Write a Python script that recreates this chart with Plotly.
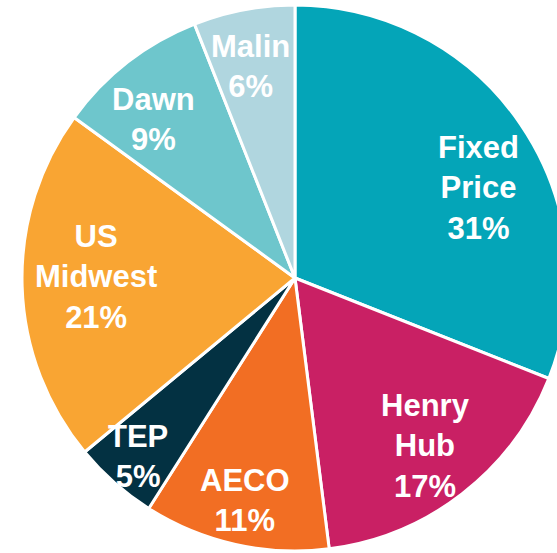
import math
import plotly.graph_objects as go

# Share of exposure by pricing hub (percent)
hubs = ["Fixed Price", "Henry Hub", "AECO", "TEP", "US Midwest", "Dawn", "Malin"]
shares = [31, 17, 11, 5, 21, 9, 6]
colors = ["#04A5B8", "#C92064", "#F26E23", "#033142", "#F9A533", "#6EC6CC", "#B0D6DF"]

# Label placement: radial fraction of the radius and angular nudge (degrees)
label_radius = [0.75, 0.78, 0.835, 0.87, 0.73, 0.78, 0.79]
label_nudge = [8, 0, 0, 0, 2, -4, -1]

W, H = 570, 553
cx, cy, r = 295, 278, 273  # pie centre and radius in pixels (from top-left)

fig = go.Figure(
    go.Pie(
        labels=hubs,
        values=shares,
        sort=False,
        direction="clockwise",
        rotation=0,
        marker=dict(colors=colors, line=dict(color="white", width=3)),
        textinfo="none",
        hoverinfo="label+percent",
        showlegend=False,
        domain=dict(
            x=[(cx - r) / W, (cx + r) / W],
            y=[1 - (cy + r) / H, 1 - (cy - r) / H],
        ),
    )
)

total = sum(shares)
cum = 0
annotations = []
for name, v, f, nudge in zip(hubs, shares, label_radius, label_nudge):
    mid = (cum + v / 2) / total * 360 + nudge
    cum += v
    a = math.radians(mid)
    px = cx + f * r * math.sin(a)
    py = cy - f * r * math.cos(a)
    lines = name.split(" ") + [f"{v}%"]
    text = "<br>".join(f"<b>{s}</b>" for s in lines)
    annotations.append(
        dict(
            x=px / W,
            y=1 - py / H,
            xref="paper",
            yref="paper",
            text=text,
            showarrow=False,
            xanchor="center",
            yanchor="middle",
            align="center",
            font=dict(family="Liberation Sans, Arial, sans-serif", size=31, color="white"),
        )
    )

fig.update_layout(
    width=W,
    height=H,
    margin=dict(l=0, r=0, t=0, b=0),
    paper_bgcolor="white",
    plot_bgcolor="white",
    annotations=annotations,
    font=dict(family="Liberation Sans, Arial, sans-serif"),
)

fig.write_html(
    "out.html",
    config={"displayModeBar": False},
    post_script=(
        "document.body.style.margin='0';"
        "document.body.style.overflow='hidden';"
        "document.documentElement.style.overflow='hidden';"
    ),
)
